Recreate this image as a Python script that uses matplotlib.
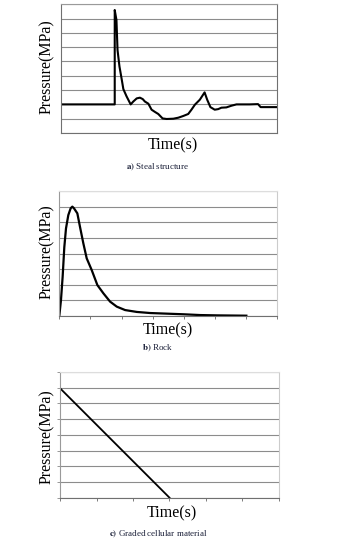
import numpy as np
import matplotlib.pyplot as plt

plt.rcParams['font.family'] = ['Liberation Serif', 'DejaVu Serif']
plt.rcParams['mathtext.fontset'] = 'stix'

# a) Steal structure (x in % of axis width, y in grid units)
steel_t = [0, 24.7, 24.7, 25.5, 26.0, 26.9, 28.0, 28.7, 30.2, 32.1, 33.3, 34.9,
           36.4, 37.7, 38.7, 40.3, 41.8, 43.4, 44.9, 46.9, 48.8, 51.9, 54.2,
           56.5, 58.8, 60.3, 61.9, 64.2, 66.4, 67.6, 69.1, 71.1, 72.7, 74.2,
           76.5, 78.9, 81.2, 87.3, 91.2, 92.4, 100]
steel_p = [2.0, 2.0, 8.6, 7.9, 5.8, 4.65, 3.7, 3.07, 2.56, 2.0, 2.2, 2.42,
           2.47, 2.37, 2.2, 2.05, 1.63, 1.47, 1.33, 1.02, 0.98, 1.0, 1.07,
           1.19, 1.33, 1.63, 1.98, 2.33, 2.84, 2.33, 1.81, 1.63, 1.67, 1.77,
           1.79, 1.91, 2.0, 2.0, 2.02, 1.81, 1.81]

# b) Rock
rock_t = [0, 0.054, 0.107, 0.161, 0.215, 0.29, 0.365, 0.419, 0.473, 0.58,
          0.666, 0.773, 0.881, 1.042, 1.224, 1.418, 1.633, 1.847, 2.116,
          2.492, 2.922, 3.459, 3.996, 4.533, 5.07, 6.015]
rock_p = [0, 1.02, 2.5, 4.4, 5.6, 6.46, 6.89, 7.0, 6.89, 6.57, 5.7, 4.65,
          3.69, 2.94, 1.98, 1.45, 0.92, 0.6, 0.38, 0.26, 0.19, 0.15, 0.11,
          0.06, 0.04, 0.02]

# c) Graded cellular material
cell_t = [0, 3]
cell_p = [6.95, 0]

cap_tags = ['a)', 'b)', 'c)']
captions = ['Steal structure', 'Rock', 'Graded cellular material']

fig = plt.figure(figsize=(3.51, 5.47), dpi=100)
W, H = 351, 547

def px_axes(l, t, r, b):
    return fig.add_axes([l / W, 1 - b / H, (r - l) / W, (b - t) / H])

grid_col = '#8c8c8c'

# --- panel a
ax1 = px_axes(61.5, 4.3, 277, 133)
ax1.plot(steel_t, steel_p, color='black', lw=1.5)
ax1.set_xlim(0, 100)
ax1.set_ylim(0, 9)
ax1.set_yticks(np.arange(0, 10))
ax1.set_xticks([])
ax1.tick_params(axis='y', length=0, labelleft=False)
ax1.grid(axis='y', color=grid_col, lw=0.8)
for s in ax1.spines.values():
    s.set_color('#707070')
    s.set_linewidth(0.8)
ax1.spines['top'].set_color('#9a9a9a')

# --- panel b
ax2 = px_axes(59.3, 191, 277, 316)
ax2.plot(rock_t, rock_p, color='black', lw=1.6)
ax2.set_xlim(0, 7)
ax2.set_ylim(0, 8)
ax2.set_yticks(np.arange(0, 9))
ax2.set_xticks(np.arange(0, 8))
ax2.tick_params(axis='y', length=0, labelleft=False)
ax2.tick_params(axis='x', length=2.5, width=0.6, color='#666666', labelbottom=False)
ax2.grid(axis='y', color=grid_col, lw=0.8)
ax2.spines['left'].set_color('#9a9a9a')
ax2.spines['bottom'].set_color('#707070')
ax2.spines['top'].set_color('#dddddd')
ax2.spines['right'].set_color('#cccccc')
for s in ax2.spines.values():
    s.set_linewidth(0.8)

# --- panel c
ax3 = px_axes(60.3, 372, 278.7, 497.7)
ax3.plot(cell_t, cell_p, color='black', lw=1.3)
ax3.set_xlim(0, 6)
ax3.set_ylim(0, 8)
ax3.set_yticks(np.arange(0, 9))
ax3.set_xticks(np.arange(0, 7))
ax3.tick_params(axis='y', length=2, width=0.6, color='#888888', labelleft=False)
ax3.tick_params(axis='x', length=2.5, width=0.6, color='#666666', labelbottom=False)
ax3.grid(axis='y', color=grid_col, lw=0.8)
ax3.spines['left'].set_color('#9a9a9a')
ax3.spines['bottom'].set_color('#707070')
ax3.spines['top'].set_color('#dddddd')
ax3.spines['right'].set_color('#cccccc')
for s in ax3.spines.values():
    s.set_linewidth(0.8)

# labels in pixel positions
ylab_y = [67, 252, 437]
time_xy = [(173, 145), (168, 330), (172, 513)]
cap_y = [167, 348, 534]
for i in range(3):
    fig.text(47 / W, 1 - ylab_y[i] / H, 'Pressure(MPa)', rotation=90,
             ha='center', va='center', fontsize=11.5)
    fig.text(time_xy[i][0] / W, 1 - time_xy[i][1] / H, 'Time(s)',
             ha='center', va='center', fontsize=11.5)
    fig.text(158 / W, 1 - cap_y[i] / H,
             r'$\mathbf{' + cap_tags[i] + '}$ ' + captions[i],
             ha='center', va='center', fontsize=6.5, color='#1a1f38')

fig.savefig('out.png', dpi=100)
